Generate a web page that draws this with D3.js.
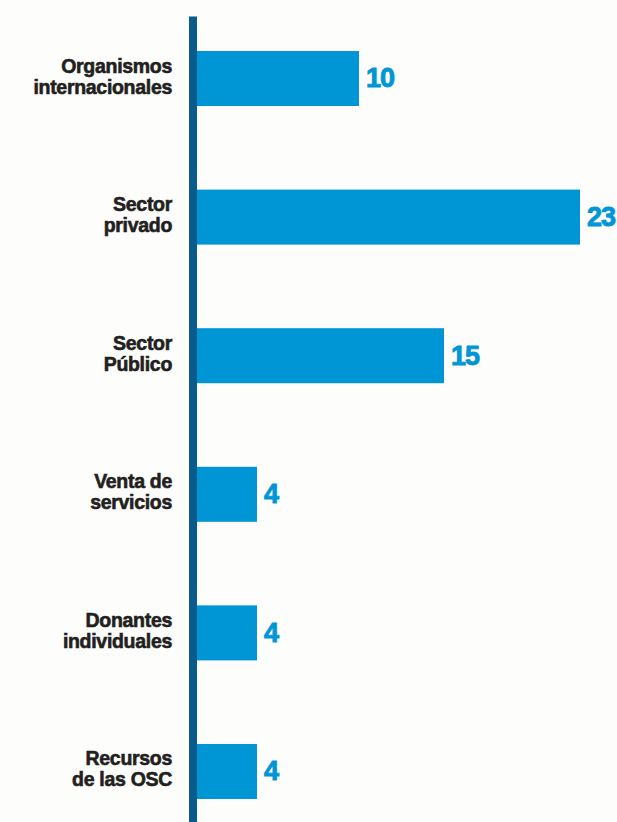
<!DOCTYPE html>
<html>
<head>
<meta charset="utf-8">
<script src="https://cdn.jsdelivr.net/npm/d3@7"></script>
<style>
  html, body { margin: 0; padding: 0; background: #fdfdfc; }
  svg { display: block; }
</style>
</head>
<body>
<svg id="chart" width="617" height="822"></svg>
<script>
const categories = [
  ["Organismos", "internacionales"],
  ["Sector", "privado"],
  ["Sector", "Público"],
  ["Venta de", "servicios"],
  ["Donantes", "individuales"],
  ["Recursos", "de las OSC"]
];
const values = [10, 23, 15, 4, 4, 4];

const svg = d3.select("#chart");
const W = 617, H = 822;
svg.append("rect").attr("width", W).attr("height", H).attr("fill", "#fdfdfc");

const keys = categories.map(c => c.join(" "));
const x = d3.scaleLinear().domain([0, 23]).range([189, 580]);
const y = d3.scaleBand().domain(keys).range([51, 799]).paddingInner(0.603).paddingOuter(0);

const data = keys.map((k, i) => ({ key: k, lines: categories[i], value: values[i] }));

// bars
svg.selectAll("rect.bar").data(data).enter().append("rect")
  .attr("class", "bar")
  .attr("x", x(0))
  .attr("y", d => y(d.key))
  .attr("width", d => x(d.value) - x(0))
  .attr("height", y.bandwidth())
  .attr("fill", "#0096d6");

// axis line
const axisG = svg.append("g").attr("transform", `translate(${x(0) + 3.5},0)`);
const axis = d3.axisLeft(d3.scaleLinear().range([16, 822])).ticks(0).tickSize(0).tickFormat("");
axisG.call(axis);
axisG.select(".domain").attr("stroke", "#0b5a8c").attr("stroke-width", 8);

// value labels
svg.selectAll("text.val").data(data).enter().append("text")
  .attr("class", "val")
  .attr("x", d => x(d.value) + 7)
  .attr("y", d => y(d.key) + y.bandwidth() / 2)
  .attr("dy", "0.33em")
  .attr("font-family", "'Liberation Sans', Arial, sans-serif")
  .attr("font-weight", "bold")
  .attr("font-size", 27)
  .attr("letter-spacing", -1)
  .attr("fill", "#0096d6")
  .attr("stroke", "#0096d6")
  .attr("stroke-width", 0.9)
  .text(d => d.value);

// category labels
const lab = svg.selectAll("text.cat").data(data).enter().append("text")
  .attr("class", "cat")
  .attr("text-anchor", "end")
  .attr("font-family", "'Liberation Sans', Arial, sans-serif")
  .attr("font-weight", "bold")
  .attr("font-size", 19.5)
  .attr("letter-spacing", -0.3)
  .attr("fill", "#231f20")
  .attr("stroke", "#231f20")
  .attr("stroke-width", 0.6);
lab.each(function(d) {
  const t = d3.select(this);
  const cy = y(d.key) + y.bandwidth() / 2;
  d.lines.forEach((ln, j) => {
    t.append("tspan").attr("x", 172).attr("y", cy - 6 + j * 21).text(ln);
  });
});
</script>
</body>
</html>
